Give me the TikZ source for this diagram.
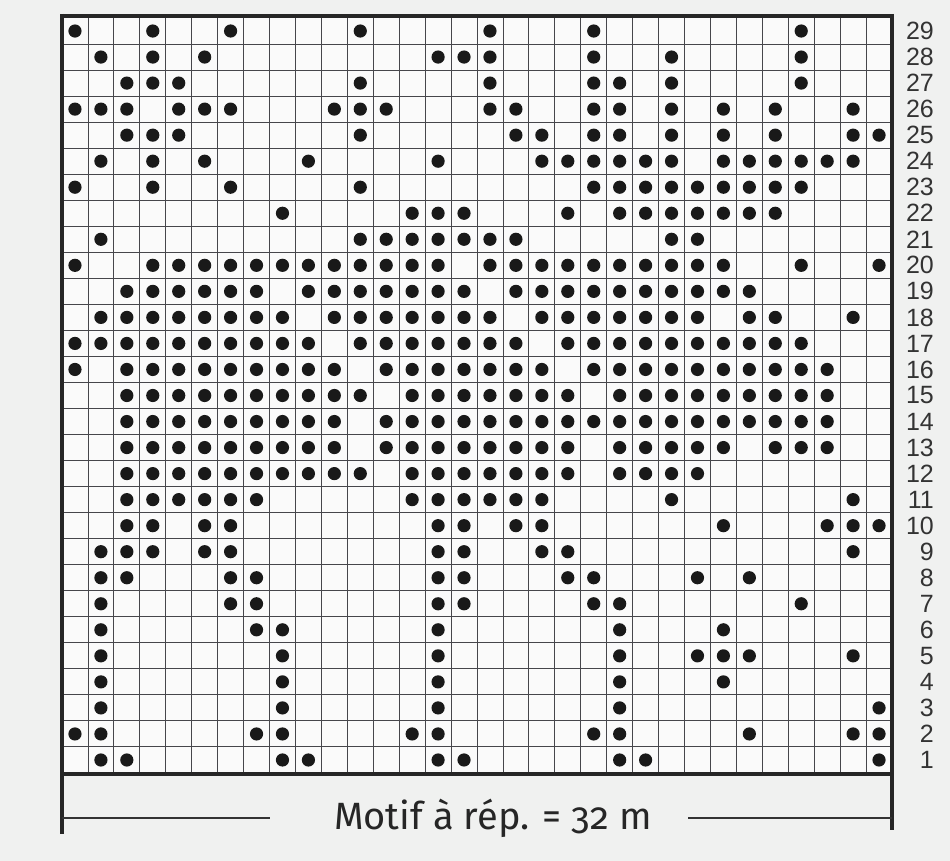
\documentclass[tikz,border=0pt]{standalone}
\usepackage{fontspec}
\newfontfamily\numfont{Liberation Sans}
\newfontfamily\motiffont{Fira Sans}[Numbers=OldStyle]
\definecolor{paper}{RGB}{240,241,240}
\definecolor{cellbg}{RGB}{250,250,250}
\definecolor{gridline}{RGB}{70,70,75}
\definecolor{inkdot}{RGB}{25,25,25}
\tikzset{
  gridv/.style={draw=gridline, line width=0.8pt},
  gridh/.style={draw=gridline, line width=1.0pt},
  frameline/.style={draw=black!85, line width=4pt},
  sideline/.style={draw=black!85, line width=3.5pt},
  repline/.style={draw=black!80, line width=1.4pt},
  stitch/.style={fill=inkdot},
  rownum/.style={anchor=east, inner sep=0pt, font=\numfont\fontsize{25}{25}\selectfont, text=black!80},
  motif/.style={inner sep=0pt, font=\motiffont\fontsize{38}{38}\selectfont, text=black!85}
}
\def\gx{62}
\def\gy{18}
\def\cw{25.9375}
\def\ch{26.0345}
\begin{document}
\begin{tikzpicture}[x=1pt,y=-1pt]
\useasboundingbox (0,0) rectangle (950,861);
\fill[paper] (0,0) rectangle (950,861);
\fill[cellbg] (62,18) rectangle (892,773);
% grid
\foreach \k in {1,...,31}{
  \pgfmathsetmacro{\xx}{\gx+\k*\cw}
  \draw[gridv] (\xx,18) -- (\xx,773);
}
\foreach \k in {1,...,28}{
  \pgfmathsetmacro{\yy}{\gy+\k*\ch}
  \draw[gridh] (62,\yy) -- (892,\yy);
}
% stitches
\foreach \r/\cols in {
29/{1,4,7,12,17,21,29},
28/{2,4,6,15,16,17,21,24,29},
27/{3,4,5,12,17,21,22,24,29},
26/{1,2,3,5,6,7,11,12,13,17,18,21,22,24,26,28,31},
25/{3,4,5,12,18,19,21,22,24,26,28,31,32},
24/{2,4,6,10,15,19,20,21,22,23,24,26,27,28,29,30,31},
23/{1,4,7,12,21,22,23,24,25,26,27,28,29},
22/{9,14,15,16,20,22,23,24,25,26,27,28},
21/{2,12,13,14,15,16,17,18,24,25},
20/{1,4,5,6,7,8,9,10,11,12,13,14,15,17,18,19,20,21,22,23,24,25,26,29,32},
19/{3,4,5,6,7,8,10,11,12,13,14,15,16,18,19,20,21,22,23,24,25,26,27},
18/{2,3,4,5,6,7,8,9,11,12,13,14,15,16,17,19,20,21,22,23,24,25,27,28,31},
17/{1,2,3,4,5,6,7,8,9,10,12,13,14,15,16,17,18,20,21,22,23,24,25,26,27,28,29},
16/{1,3,4,5,6,7,8,9,10,11,13,14,15,16,17,18,19,21,22,23,24,25,26,27,28,29,30},
15/{3,4,5,6,7,8,9,10,11,12,14,15,16,17,18,19,20,22,23,24,25,26,27,28,29,30},
14/{3,4,5,6,7,8,9,10,11,13,14,15,16,17,18,19,20,21,22,23,24,25,26,27,28,29,30},
13/{3,4,5,6,7,8,9,10,11,13,14,15,16,17,18,19,20,22,23,24,25,26,28,29,30},
12/{3,4,5,6,7,8,9,10,11,12,14,15,16,17,18,19,20,22,23,24,25},
11/{3,4,5,6,7,8,14,15,16,17,18,19,24,31},
10/{3,4,6,7,15,16,18,19,26,30,31,32},
9/{2,3,4,6,7,15,16,19,20,31},
8/{2,3,7,8,15,16,20,21,25,27},
7/{2,7,8,15,16,21,22,29},
6/{2,8,9,15,22,26},
5/{2,9,15,22,25,26,27,31},
4/{2,9,15,22,26},
3/{2,9,15,22,32},
2/{1,2,8,9,14,15,21,22,27,31,32},
1/{2,3,9,10,15,16,22,23,32}}{
  \foreach \c in \cols {
    \pgfmathsetmacro{\xx}{\gx+(\c-0.5)*\cw}
    \pgfmathsetmacro{\yy}{\gy+(29-\r+0.5)*\ch}
    \fill[stitch] (\xx,\yy) circle (6.6);
  }
}
% row numbers
\foreach \r in {1,...,29}{
  \pgfmathsetmacro{\yy}{\gy+(29-\r+0.5)*\ch}
  \node[rownum] (n\r) at (934,\yy) {\r};
}
% frame
\draw[frameline] (60,16) -- (894,16);
\draw[frameline] (60,774) -- (894,774);
\draw[sideline] (62,14) -- (62,834);
\draw[sideline] (892,14) -- (892,830);
% repeat label
\node[motif] (motif) at (493,818) {Motif à rép. = 32 m};
\coordinate (lend) at (270,818);
\coordinate (rstart) at (688,818);
\draw[repline] (62,818) -- (lend);
\draw[repline] (rstart) -- (892,818);
\end{tikzpicture}
\end{document}
